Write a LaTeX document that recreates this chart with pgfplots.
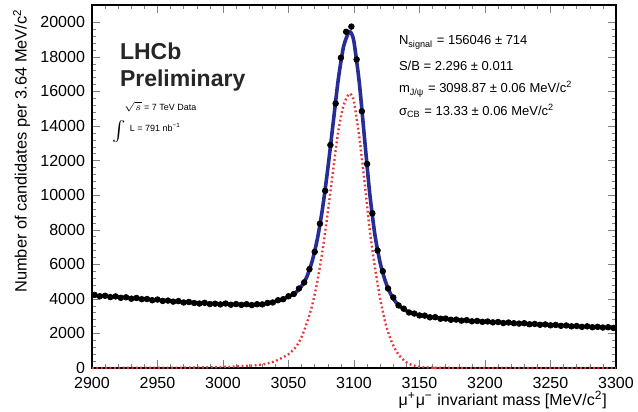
\documentclass[border=0pt]{standalone}
\usepackage{fontspec}
\setmainfont{Liberation Sans}
\usepackage{pgfplots}
\pgfplotsset{compat=1.18}
\usepackage{pgfplotstable}

\definecolor{fitblue}{RGB}{40,45,150}
\definecolor{sigred}{RGB}{228,55,55}

% binned data (black points)
\pgfplotstableread{
x y
2902 4230
2906 4150
2910 4180
2914 4100
2918 4140
2922 4060
2926 4090
2930 4010
2934 4050
2938 3980
2942 3990
2946 3920
2950 3960
2954 3880
2958 3900
2962 3840
2966 3870
2970 3790
2974 3820
2978 3760
2982 3730
2986 3770
2990 3700
2994 3720
2998 3680
3002 3730
3006 3660
3010 3700
3014 3650
3018 3690
3022 3640
3026 3690
3030 3680
3034 3760
3038 3790
3042 3920
3046 3980
3050 4150
3054 4280
3058 4600
3062 4950
3066 5720
3070 6720
3074 8350
3078 10250
3082 12900
3086 15300
3090 17950
3094 19450
3098 19750
3102 17850
3106 14850
3110 11800
3114 8950
3118 6800
3122 5600
3126 4600
3130 4080
3134 3620
3138 3430
3142 3210
3146 3150
3150 3040
3154 3030
3158 2930
3162 2940
3166 2850
3170 2860
3174 2790
3178 2800
3182 2740
3186 2770
3190 2700
3194 2720
3198 2670
3202 2690
3206 2640
3210 2660
3214 2600
3218 2630
3222 2590
3226 2570
3230 2590
3234 2530
3238 2550
3242 2500
3246 2520
3250 2470
3254 2490
3258 2440
3262 2460
3266 2410
3270 2430
3274 2380
3278 2410
3282 2360
3286 2380
3290 2340
3294 2360
3298 2320
}\datatab

% total fit (blue)
\pgfplotstableread{
x y
2900 4200
2925 4080
2950 3930
2975 3790
3000 3700
3025 3660
3030 3696
3040 3848
3050 4120
3056 4401
3060 4738
3064 5275
3068 6162
3072 7450
3076 9237
3080 11524
3084 14111
3088 16698
3092 18586
3096 19423
3098 19366
3100 18860
3104 16542
3108 13325
3112 10107
3116 7690
3120 6072
3124 5004
3128 4280
3132 3805
3136 3503
3140 3310
3144 3178
3150 3070
3160 2941
3175 2800
3200 2680
3225 2590
3250 2490
3275 2400
3300 2330
}\fittab

% signal component (red)
\pgfplotstableread{
x y
2900 0
2960 10
2990 40
3000 60
3010 90
3020 130
3030 200
3040 400
3050 800
3056 1250
3060 1800
3064 2600
3068 3600
3072 5000
3076 6800
3080 9000
3084 11400
3088 13700
3092 15200
3096 15850
3098 15800
3100 15400
3104 13400
3108 10800
3112 8000
3116 5800
3120 4000
3124 2600
3128 1650
3132 1000
3136 600
3140 330
3144 180
3150 70
3160 15
3170 3
3300 0
}\sigtab

\begin{document}
\begin{tikzpicture}
\begin{axis}[
  name=ax,
  scale only axis,
  width=262pt, height=181.5pt,
  xmin=2900, xmax=3300, ymin=0, ymax=21000,
  xtick={2900,2950,...,3300},
  ytick={0,2000,...,20000},
  minor x tick num=4, minor y tick num=4,
  tick align=inside,
  major tick length=4pt, minor tick length=2pt,
  scaled ticks=false,
  /pgf/number format/1000 sep={},
  /pgf/number format/assume math mode=true,
  tick label style={font=\fontsize{8}{9}\selectfont},
  xticklabel style={yshift=-1pt},
  axis line style={line width=0.6pt},
  clip=false,
]
\addplot[sigred, line width=1.2pt, dash pattern=on 0.9pt off 1.3pt, smooth, tension=0.4]
  table[x=x, y=y] {\sigtab};
\addplot[fitblue, line width=1.8pt, smooth, tension=0.4]
  table[x=x, y=y] {\fittab};
\addplot[only marks, mark=*, mark size=1.4pt, black]
  table[x=x, y=y] {\datatab};

\node[anchor=west, font=\fontsize{11.5}{12}\selectfont\bfseries, text=black!85]
  at (axis cs:2916,18320) {LHCb};
\node[anchor=west, font=\fontsize{11.5}{12}\selectfont\bfseries, text=black!85]
  at (axis cs:2916,16650) {Preliminary};
\node[anchor=west, font=\fontsize{4.5}{5}\selectfont]
  at (axis cs:2919,15090) {$\sqrt{s}$ = 7 TeV Data};
\node[font=\fontsize{10}{10}\selectfont] at (axis cs:2920.5,13700) {$\int$};
\node[anchor=west, font=\fontsize{4.5}{5}\selectfont]
  at (axis cs:2923.5,13900) {L = 791 nb\textsuperscript{−1}};

\node[anchor=west, font=\fontsize{6.5}{7}\selectfont]
  at (axis cs:3129,18840) {N\textsubscript{signal} = 156046 ± 714};
\node[anchor=west, font=\fontsize{6.5}{7}\selectfont]
  at (axis cs:3129,17460) {S/B = 2.296 ± 0.011};
\node[anchor=west, font=\fontsize{6.5}{7}\selectfont]
  at (axis cs:3129,16130) {m\textsubscript{J/ψ} = 3098.87 ± 0.06 MeV/c\textsuperscript{2}};
\node[anchor=west, font=\fontsize{6.5}{7}\selectfont]
  at (axis cs:3129,14860) {σ\textsubscript{CB} = 13.33 ± 0.06 MeV/c\textsuperscript{2}};

% axis titles, ROOT style (right/top aligned)
\node[anchor=north east, font=\fontsize{8}{9}\selectfont]
  at ([xshift=-1pt, yshift=-8pt]rel axis cs:1,0)
  {μ\textsuperscript{+}μ\textsuperscript{−} invariant mass [MeV/c\textsuperscript{2}]};
\node[rotate=90, anchor=north east, font=\fontsize{8.2}{9}\selectfont]
  at ([xshift=-43pt, yshift=1.5pt]rel axis cs:0,1)
  {Number of candidates per 3.64 MeV/c\textsuperscript{2}};
\end{axis}
\pgfresetboundingbox
\path[use as bounding box] ([shift={(-46pt,-22pt)}]ax.south west)
  rectangle ([shift={(11pt,2.5pt)}]ax.north east);
\end{tikzpicture}
\end{document}
